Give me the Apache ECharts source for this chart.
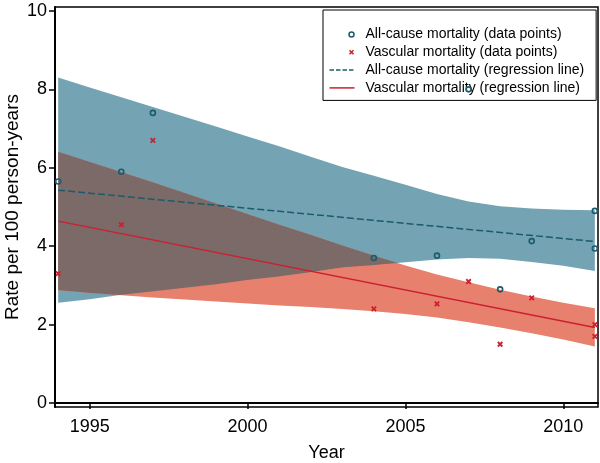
<!DOCTYPE html>
<html><head><meta charset="utf-8">
<script src="https://cdn.jsdelivr.net/npm/echarts@6/dist/echarts.min.js"></script>
<style>html,body{margin:0;padding:0;background:#fff}#c{width:600px;height:463px}</style>
</head><body><div id="c"></div>
<script>
// ---- data ----
const years = [1994,1995,1996,1997,1998,1999,2000,2001,2002,2003,2004,2005,2006,2007,2008,2009,2010,2011];
const allUpper  = [8.30,8.05,7.80,7.55,7.30,7.05,6.80,6.55,6.28,6.02,5.80,5.57,5.33,5.14,5.02,4.96,4.93,4.92];
const allLower  = [2.56,2.65,2.76,2.85,2.94,3.03,3.14,3.23,3.34,3.46,3.52,3.59,3.66,3.70,3.68,3.60,3.50,3.37];
const vascUpper = [6.41,6.15,5.89,5.63,5.36,5.09,4.82,4.55,4.29,4.02,3.76,3.51,3.28,3.08,2.89,2.72,2.56,2.42];
const vascLower = [2.88,2.81,2.75,2.69,2.64,2.59,2.54,2.49,2.45,2.40,2.34,2.27,2.18,2.06,1.93,1.78,1.62,1.44];

const allPointYears  = [1994,1996,1997,2004,2006,2007,2008,2009,2011,2011];
const allPointValues = [5.65,5.90,7.40,3.70,3.76,8.00,2.90,4.13,4.90,3.94];
const vascPointYears  = [1994,1996,1997,2004,2006,2007,2008,2009,2011,2011];
const vascPointValues = [3.30,4.55,6.70,2.40,2.53,3.10,1.50,2.68,2.00,1.70];

const lineYears = [1994, 2011];
const allLineValues  = [5.43, 4.12];
const vascLineValues = [4.64, 1.93];

const xTicks = [1995, 2000, 2005, 2010];
const yTicks = [0, 2, 4, 6, 8, 10];

const names = {
  allPts: 'All-cause mortality (data points)',
  vascPts: 'Vascular mortality (data points)',
  allLine: 'All-cause mortality (regression line)',
  vascLine: 'Vascular mortality (regression line)'
};

// ---- styles ----
const FONT = 'Liberation Sans, Arial, sans-serif';
const TEAL = '#1b5c6c';
const RED = '#cc1f30';
const BLUE_BAND = '#74a3b3';
const SALMON_BAND = '#e8806e';
const OVERLAP_BAND = '#7c6a68';

function bandSeries(lo, hi, color) {
  return {
    type: 'custom', silent: true, z: 1,
    data: years.map((y, i) => [y, lo[i], hi[i]]),
    encode: { x: 0, y: [1, 2] },
    renderItem(params, api) {
      if (params.dataIndex !== 0) return;
      const top = years.map((y, i) => api.coord([y, hi[i]]));
      const bot = years.map((y, i) => api.coord([y, lo[i]])).reverse();
      return { type: 'polygon', shape: { points: top.concat(bot) }, style: { fill: color } };
    }
  };
}

function overlapSeries(color) {
  return {
    type: 'custom', silent: true, z: 1,
    data: years.map((y, i) => [y, Math.max(allLower[i], vascLower[i]), Math.min(allUpper[i], vascUpper[i])]),
    encode: { x: 0, y: [1, 2] },
    renderItem(params, api) {
      if (params.dataIndex !== 0) return;
      const tops = [], bots = [];
      const N = 24;
      for (let i = 0; i < years.length - 1; i++) {
        const steps = (i === years.length - 2) ? N + 1 : N;
        for (let k = 0; k < steps; k++) {
          const t = k / N;
          const seg = a => a[i] + t * (a[i + 1] - a[i]);
          const x = years[i] + t * (years[i + 1] - years[i]);
          const top = Math.min(seg(allUpper), seg(vascUpper));
          const bot = Math.max(seg(allLower), seg(vascLower));
          if (top >= bot) { tops.push(api.coord([x, top])); bots.push(api.coord([x, bot])); }
        }
      }
      return { type: 'polygon', shape: { points: tops.concat(bots.reverse()) }, style: { fill: color } };
    }
  };
}

const BOUNDS = 'M0 0L0 0M31 14L31 14';
const chart = echarts.init(document.getElementById('c'));
chart.setOption({
  animation: false,
  backgroundColor: '#fff',
  grid: { left: 55, right: 2, top: 7, bottom: 56, show: true, borderColor: '#000', borderWidth: 1.5,
          containLabel: false, outerBoundsMode: 'none' },
  legend: {
    orient: 'vertical', left: 323, top: 10,
    padding: [15, 12, 3, 4], itemWidth: 31, itemHeight: 14, itemGap: -1.2,
    borderColor: '#000', borderWidth: 1, backgroundColor: '#fff',
    textStyle: { fontFamily: FONT, fontSize: 14, color: '#000', lineHeight: 14 },
    selectedMode: false,
    data: [
      { name: names.allPts, icon: 'path://' + BOUNDS + 'M24.5 7A2.5 2.5 0 1 1 19.5 7A2.5 2.5 0 1 1 24.5 7Z',
        itemStyle: { color: 'none', borderColor: TEAL, borderWidth: 1.5 } },
      { name: names.vascPts, icon: 'path://' + BOUNDS + 'M20 5L24 9M24 5L20 9',
        itemStyle: { color: 'none', borderColor: RED, borderWidth: 1.6 } },
      { name: names.allLine, icon: 'path://' + BOUNDS + 'M0 7L25 7',
        itemStyle: { color: 'none', borderColor: TEAL, borderWidth: 1.5, borderType: [4.5, 2] } },
      { name: names.vascLine, icon: 'path://' + BOUNDS + 'M0 7L25 7',
        itemStyle: { color: 'none', borderColor: RED, borderWidth: 1.5 } }
    ]
  },
  xAxis: {
    type: 'value', min: 1993.9, max: 2011.1,
    name: 'Year', nameLocation: 'middle', nameGap: 37, nameMoveOverlap: false,
    nameTextStyle: { fontFamily: FONT, fontSize: 18, color: '#000' },
    axisLine: { show: true, lineStyle: { color: '#000', width: 2 } },
    axisTick: { show: true, length: 6, lineStyle: { color: '#000', width: 1.5 }, customValues: xTicks },
    axisLabel: { fontFamily: FONT, fontSize: 18, color: '#000', margin: 11, customValues: xTicks,
                 formatter: v => String(v) },
    splitLine: { show: false }
  },
  yAxis: {
    type: 'value', min: -0.1, max: 10.1,
    name: 'Rate per 100 person-years', nameLocation: 'middle', nameGap: 33, nameMoveOverlap: false,
    nameTextStyle: { fontFamily: FONT, fontSize: 19, color: '#000' },
    axisLine: { show: true, lineStyle: { color: '#000', width: 2 } },
    axisTick: { show: true, length: 6, lineStyle: { color: '#000', width: 1.5 }, customValues: yTicks },
    axisLabel: { fontFamily: FONT, fontSize: 18, color: '#000', margin: 8, customValues: yTicks,
                 formatter: v => String(v) },
    splitLine: { show: false }
  },
  series: [
    bandSeries(allLower, allUpper, BLUE_BAND),
    bandSeries(vascLower, vascUpper, SALMON_BAND),
    overlapSeries(OVERLAP_BAND),
    {
      name: names.allLine, type: 'line', z: 3, symbol: 'none', silent: true,
      data: lineYears.map((y, i) => [y, allLineValues[i]]),
      lineStyle: { color: TEAL, width: 1.5, type: [7, 3] }, itemStyle: { color: TEAL }
    },
    {
      name: names.vascLine, type: 'line', z: 3, symbol: 'none', silent: true,
      data: lineYears.map((y, i) => [y, vascLineValues[i]]),
      lineStyle: { color: RED, width: 1.5 }, itemStyle: { color: RED }
    },
    {
      name: names.allPts, type: 'scatter', z: 6, symbol: 'circle', symbolSize: 5, silent: true,
      data: allPointYears.map((y, i) => [y, allPointValues[i]]),
      itemStyle: { color: 'rgba(0,0,0,0)', borderColor: TEAL, borderWidth: 1.6, opacity: 1 }
    },
    {
      name: names.vascPts, type: 'scatter', z: 6, symbol: 'path://M0 0L10 10M10 0L0 10', symbolSize: 4.5, silent: true,
      data: vascPointYears.map((y, i) => [y, vascPointValues[i]]),
      itemStyle: { color: 'none', borderColor: RED, borderWidth: 1.8, opacity: 1 }
    }
  ]
});
</script>
</body></html>
